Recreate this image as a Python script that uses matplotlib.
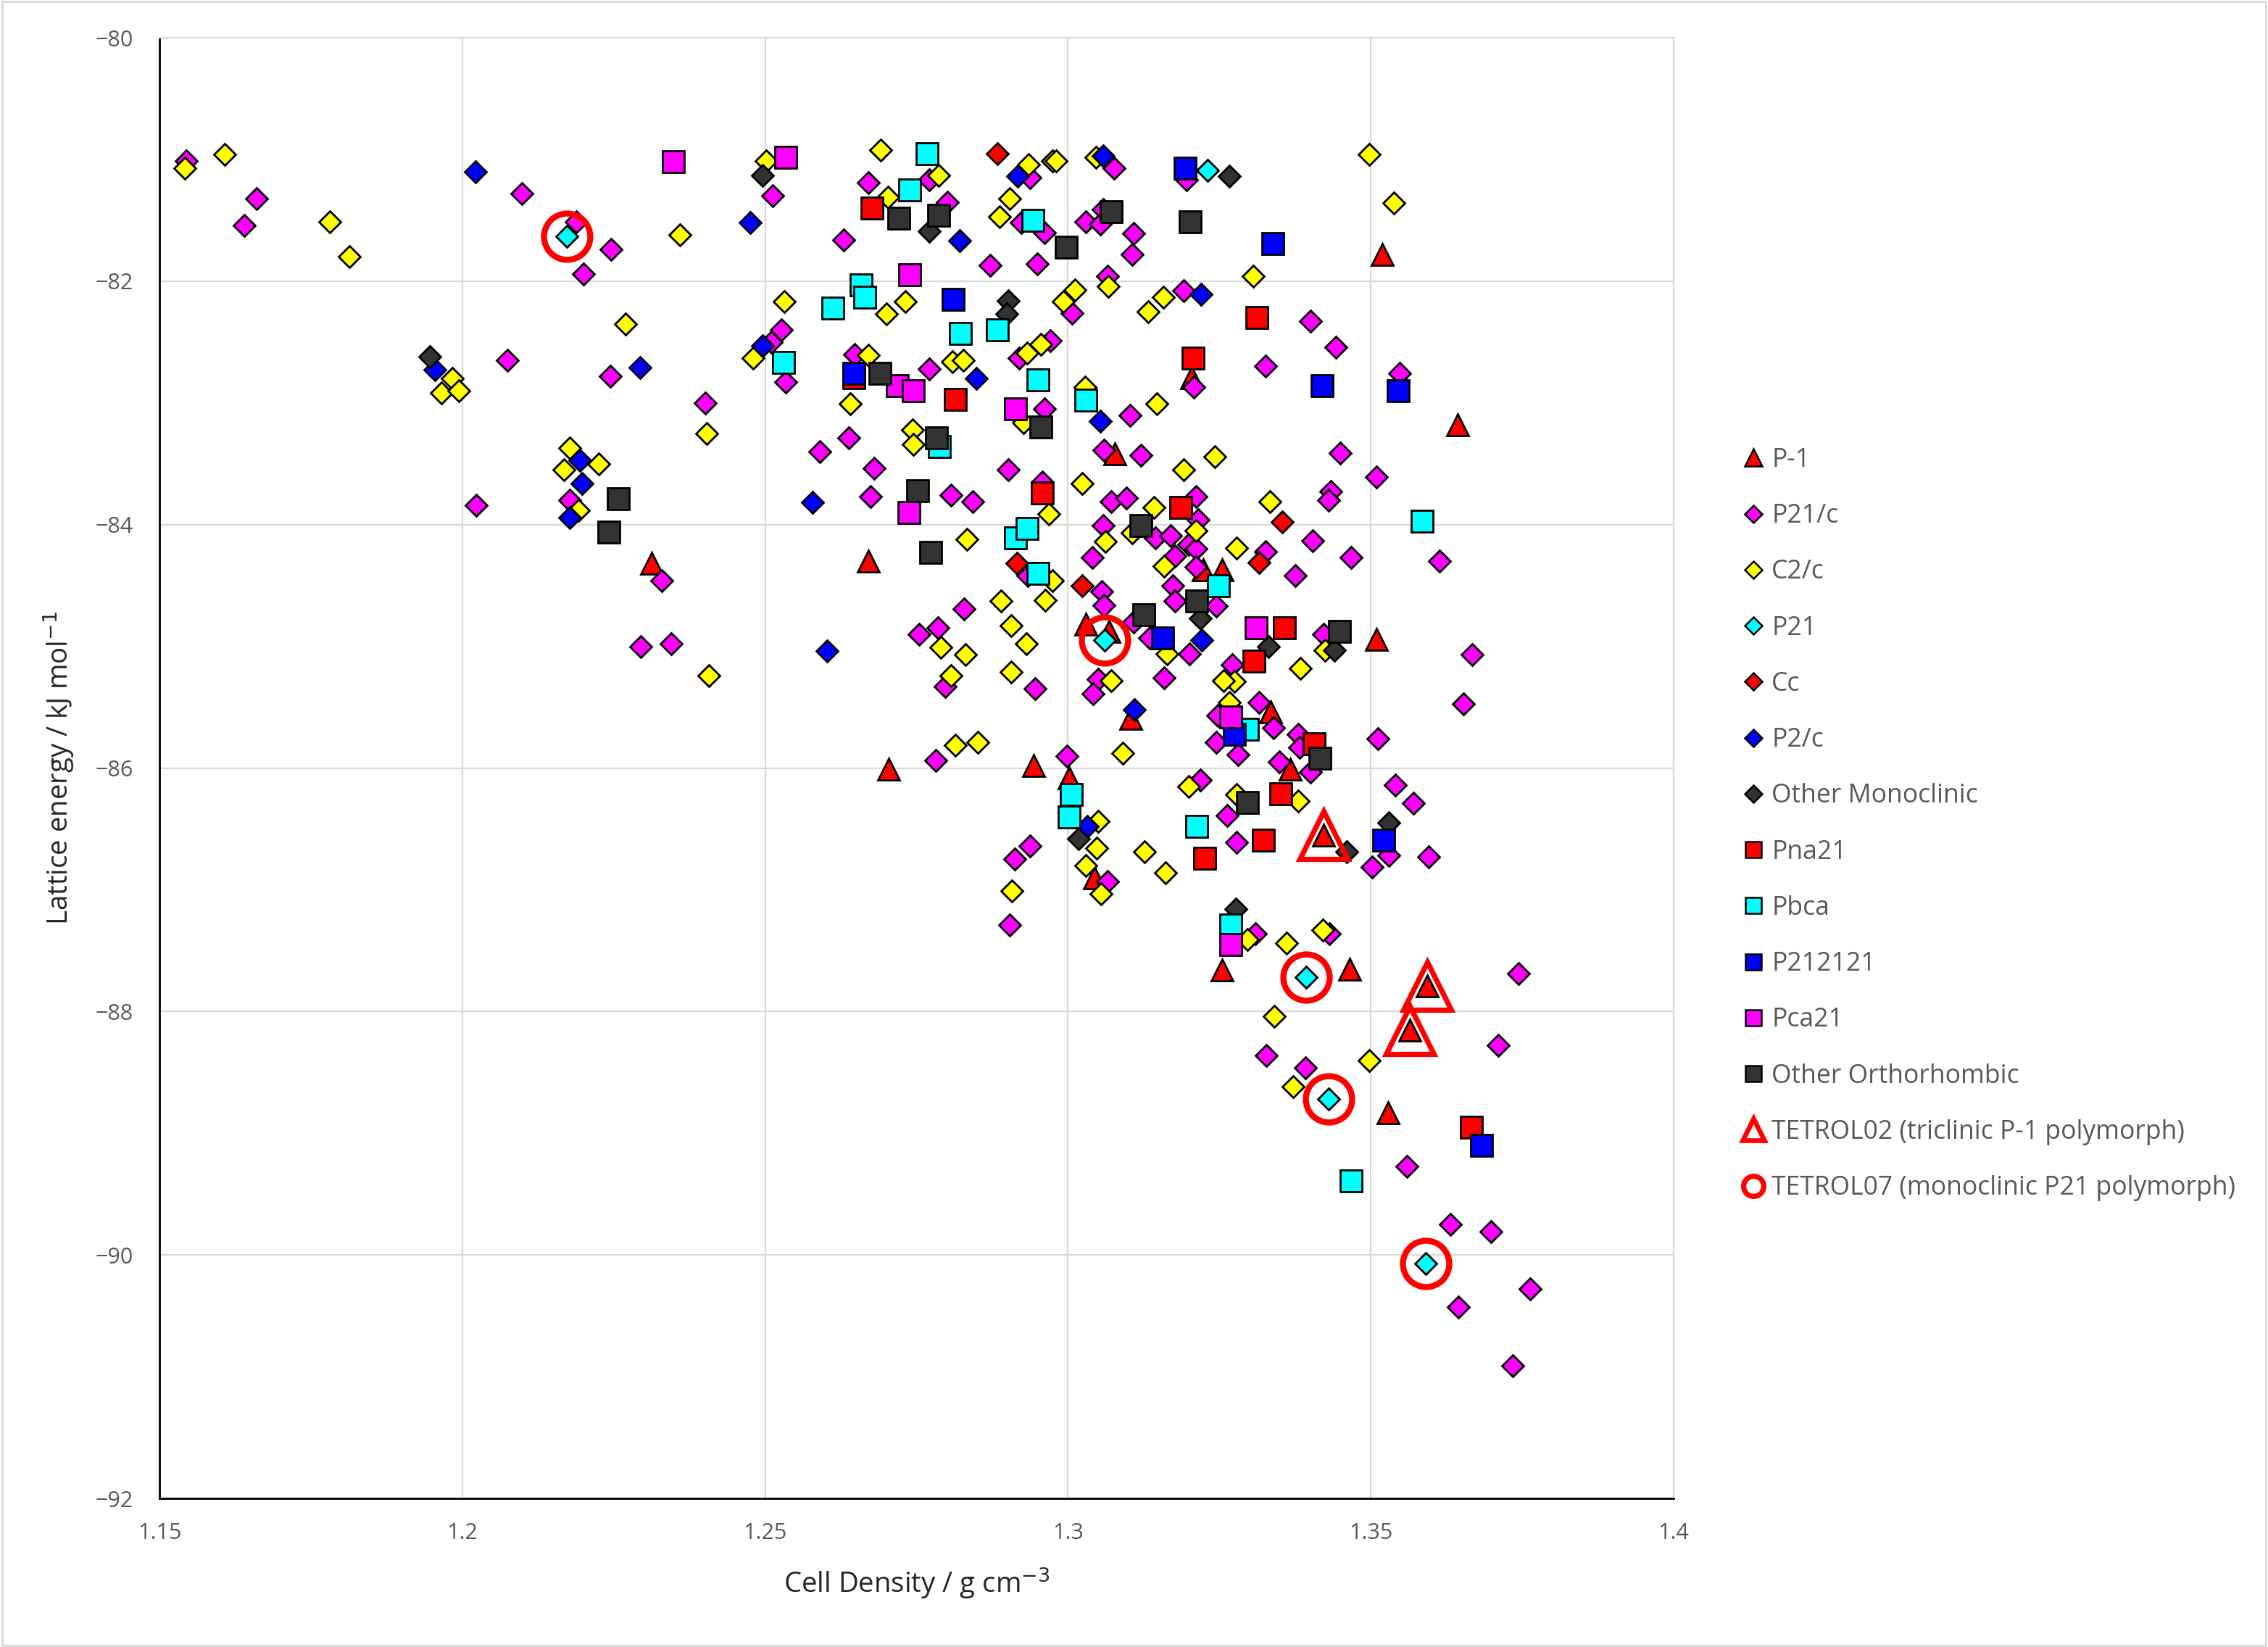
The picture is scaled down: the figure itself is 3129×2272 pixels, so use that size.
import matplotlib
matplotlib.use("Agg")
import matplotlib.pyplot as plt
from matplotlib.lines import Line2D
from matplotlib.patches import Rectangle

plt.rcParams['font.family'] = ['Open Sans', 'DejaVu Sans']

# données : (densité, énergie)
p_1 = [(1.3519, -81.78), (1.3644, -83.18), (1.2313, -84.32), (1.2671, -84.30),
       (1.3030, -84.82), (1.3068, -84.88), (1.3078, -83.42), (1.3204, -82.79),
       (1.3223, -84.37), (1.3255, -84.37), (1.3509, -84.94), (1.2704, -86.01),
       (1.2943, -85.98), (1.3104, -85.59), (1.3335, -85.54), (1.3367, -86.01),
       (1.3002, -86.08), (1.3044, -86.90), (1.3255, -87.66), (1.3465, -87.65),
       (1.3529, -88.83), (1.3422, -86.55), (1.3593, -87.79), (1.3565, -88.15)]

p21_c = [(1.1544, -81.01), (1.1661, -81.32), (1.1640, -81.54), (1.2098, -81.28),
         (1.2188, -81.51), (1.2246, -81.74), (1.2200, -81.94), (1.2074, -82.65),
         (1.2245, -82.78), (1.2401, -83.00), (1.2177, -83.80), (1.2023, -83.84),
         (1.2330, -84.46), (1.2295, -85.00), (1.2345, -84.98),
         (1.2512, -81.30), (1.2630, -81.66), (1.2671, -81.19), (1.2771, -81.17),
         (1.2801, -81.35), (1.2937, -81.15), (1.2923, -81.52), (1.2961, -81.60),
         (1.2871, -81.87), (1.2949, -81.86), (1.2527, -82.40), (1.2534, -82.83),
         (1.2510, -82.50), (1.2648, -82.60), (1.2771, -82.72), (1.2971, -82.49),
         (1.2919, -82.63), (1.2961, -83.05), (1.2638, -83.29), (1.2590, -83.40),
         (1.2680, -83.54), (1.2902, -83.55), (1.2958, -83.65), (1.2674, -83.77),
         (1.2807, -83.76), (1.2843, -83.81),
         (1.2829, -84.69), (1.2754, -84.90), (1.2785, -84.85), (1.2797, -85.33),
         (1.2946, -85.35), (1.2782, -85.94), (1.2937, -86.64), (1.2912, -86.75),
         (1.2904, -87.29), (1.2934, -84.42),
         (1.3076, -81.07), (1.3196, -81.17), (1.3029, -81.51), (1.3054, -81.53),
         (1.3058, -81.41), (1.3109, -81.61), (1.3106, -81.78), (1.3066, -81.96),
         (1.3007, -82.26), (1.3191, -82.08), (1.3400, -82.33), (1.3442, -82.54),
         (1.3326, -82.70), (1.3208, -82.87), (1.3548, -82.76), (1.3103, -83.10),
         (1.3060, -83.39), (1.3121, -83.43), (1.3450, -83.41), (1.3510, -83.61),
         (1.3434, -83.73), (1.3430, -83.80),
         (1.3072, -83.81), (1.3096, -83.78), (1.3211, -83.77), (1.3215, -83.96),
         (1.3058, -84.01), (1.3040, -84.27), (1.3145, -84.11), (1.3169, -84.09),
         (1.3199, -84.16), (1.3211, -84.20), (1.3177, -84.26), (1.3211, -84.35),
         (1.3173, -84.50), (1.3177, -84.63), (1.3245, -84.67), (1.3056, -84.55),
         (1.3060, -84.66), (1.3108, -84.80), (1.3135, -84.93), (1.3201, -85.06),
         (1.3159, -85.26), (1.3050, -85.27), (1.3042, -85.39), (1.2998, -85.90),
         (1.3271, -85.15), (1.3247, -85.57), (1.3315, -85.46), (1.3339, -85.67),
         (1.3245, -85.79), (1.3281, -85.89), (1.3380, -85.72), (1.3382, -85.83),
         (1.3349, -85.95), (1.3400, -86.03), (1.3422, -84.90), (1.3512, -85.76),
         (1.3404, -84.13), (1.3467, -84.27), (1.3326, -84.22), (1.3376, -84.42),
         (1.3219, -86.10), (1.3263, -86.39), (1.3279, -86.61), (1.3540, -86.14),
         (1.3570, -86.29), (1.3502, -86.81),
         (1.3066, -86.93), (1.3309, -87.36), (1.3432, -87.36), (1.3328, -88.36),
         (1.3392, -88.46), (1.3560, -89.27), (1.3530, -86.72),
         (1.3613, -84.30), (1.3668, -85.07), (1.3653, -85.47), (1.3596, -86.73),
         (1.3744, -87.69), (1.3710, -88.28), (1.3632, -89.75), (1.3698, -89.81),
         (1.3763, -90.28), (1.3645, -90.43), (1.3734, -90.91)]

c2_c = [(1.1542, -81.07), (1.1608, -80.96), (1.1781, -81.51), (1.1813, -81.80),
        (1.2359, -81.62), (1.2269, -82.35), (1.1983, -82.80), (1.1966, -82.92),
        (1.1994, -82.90), (1.2404, -83.25), (1.2177, -83.37), (1.2168, -83.55),
        (1.2225, -83.50), (1.2192, -83.88), (1.2407, -85.24),
        (1.2502, -81.01), (1.2691, -80.92), (1.2703, -81.31), (1.2786, -81.13),
        (1.2935, -81.04), (1.2975, -81.01), (1.2904, -81.32), (1.2887, -81.47),
        (1.2532, -82.17), (1.2731, -82.17), (1.2701, -82.27), (1.2480, -82.63),
        (1.2670, -82.61), (1.2809, -82.66), (1.2827, -82.65), (1.2933, -82.59),
        (1.2955, -82.52), (1.2641, -83.01), (1.2743, -83.22), (1.2745, -83.34),
        (1.2927, -83.16),
        (1.2980, -81.01), (1.3046, -80.98), (1.3497, -80.96), (1.3538, -81.36),
        (1.3306, -81.96), (1.3067, -82.04), (1.3012, -82.07), (1.2992, -82.17),
        (1.3157, -82.13), (1.3133, -82.25), (1.3028, -82.87), (1.3147, -83.01),
        (1.3243, -83.44), (1.3191, -83.55), (1.3023, -83.66), (1.3333, -83.81),
        (1.2969, -83.91), (1.2833, -84.12), (1.2962, -84.62), (1.2974, -84.46),
        (1.2889, -84.63), (1.2790, -85.01), (1.2831, -85.07), (1.2906, -84.83),
        (1.2931, -84.98), (1.2807, -85.24), (1.2906, -85.21), (1.2814, -85.81),
        (1.2851, -85.79), (1.2907, -87.01),
        (1.3142, -83.86), (1.3211, -84.05), (1.3062, -84.14), (1.3106, -84.07),
        (1.3159, -84.34), (1.3163, -85.06), (1.3072, -85.28), (1.3090, -85.88),
        (1.3275, -85.29), (1.3257, -85.28), (1.3267, -85.46), (1.3424, -85.03),
        (1.3384, -85.18), (1.3278, -84.19), (1.3199, -86.15), (1.3380, -86.27),
        (1.3050, -86.44), (1.3127, -86.69), (1.3161, -86.86), (1.3279, -86.22),
        (1.3047, -86.66), (1.3030, -86.80), (1.3055, -87.03), (1.3297, -87.41),
        (1.3361, -87.44), (1.3421, -87.33), (1.3341, -88.04), (1.3372, -88.62),
        (1.3497, -88.40)]

p21 = [(1.2173, -81.63), (1.3230, -81.09), (1.3061, -84.95), (1.3393, -87.72),
       (1.3431, -88.72), (1.3591, -90.07)]

cc = [(1.2884, -80.95), (1.2916, -84.32), (1.3024, -84.50), (1.3354, -83.98),
      (1.3315, -84.31)]

p2_c = [(1.2022, -81.10), (1.1955, -82.73), (1.2294, -82.71), (1.2194, -83.47),
        (1.2198, -83.66), (1.2177, -83.94), (1.2476, -81.52), (1.2496, -82.53),
        (1.2578, -83.82), (1.2602, -85.04), (1.2821, -81.67), (1.2917, -81.14),
        (1.2849, -82.80), (1.3058, -80.97), (1.3220, -82.11), (1.3054, -83.15),
        (1.3221, -84.95), (1.3110, -85.52), (1.3032, -86.48)]

other_mono = [(1.1946, -82.62), (1.2496, -81.13), (1.2771, -81.59), (1.2901, -82.16),
              (1.2899, -82.27), (1.3267, -81.14), (1.3219, -84.77), (1.3331, -85.00),
              (1.3440, -85.03), (1.3018, -86.58), (1.3277, -87.16), (1.3460, -86.69),
              (1.3530, -86.45)]

pna21 = [(1.2676, -81.40), (1.2646, -82.79), (1.2814, -82.97), (1.2958, -83.74),
         (1.3186, -83.86), (1.3207, -82.63), (1.3312, -82.30), (1.3357, -84.85),
         (1.3307, -85.12), (1.3406, -85.80), (1.3351, -86.21), (1.3323, -86.59),
         (1.3226, -86.74), (1.3666, -88.95)]

pbca = [(1.2767, -80.95), (1.2739, -81.25), (1.2942, -81.50), (1.2658, -82.03),
        (1.2664, -82.13), (1.2612, -82.22), (1.2823, -82.43), (1.2884, -82.40),
        (1.2530, -82.67), (1.2950, -82.81), (1.2788, -83.36), (1.3029, -82.98),
        (1.2914, -84.11), (1.2933, -84.03), (1.2950, -84.40), (1.3248, -84.50),
        (1.3297, -85.68), (1.3006, -86.22), (1.3002, -86.40), (1.3213, -86.48),
        (1.3269, -87.29), (1.3468, -89.39), (1.3585, -83.97)]

p212121 = [(1.2810, -82.15), (1.2646, -82.76), (1.3193, -81.07), (1.3338, -81.69),
           (1.3420, -82.86), (1.3545, -82.90), (1.3156, -84.93), (1.3275, -85.72),
           (1.3522, -86.59), (1.3683, -89.10)]

pca21 = [(1.2348, -81.02), (1.2534, -80.98), (1.2739, -81.95), (1.2718, -82.86),
         (1.2745, -82.90), (1.2914, -83.05), (1.2737, -83.90), (1.3311, -84.85),
         (1.3269, -85.58), (1.3269, -87.45)]

other_ortho = [(1.2258, -83.79), (1.2242, -84.06), (1.2721, -81.48), (1.2786, -81.46),
               (1.2690, -82.76), (1.2955, -83.20), (1.2783, -83.29), (1.2752, -83.72),
               (1.2773, -84.23), (1.2997, -81.72), (1.3072, -81.43), (1.3202, -81.51),
               (1.3120, -84.01), (1.3213, -84.63), (1.3125, -84.74), (1.3448, -84.88),
               (1.3416, -85.92), (1.3296, -86.28)]

tetrol02 = [(1.3422, -86.55), (1.3593, -87.79), (1.3565, -88.15)]
tetrol07 = [(1.2173, -81.63), (1.3061, -84.95), (1.3393, -87.72), (1.3431, -88.72),
            (1.3591, -90.07)]

x_ticks = [1.15, 1.2, 1.25, 1.3, 1.35, 1.4]
x_tick_labels = ['1.15', '1.2', '1.25', '1.3', '1.35', '1.4']
y_ticks = [-92, -90, -88, -86, -84, -82, -80]

# (nom, points, marqueur, couleur)
series = [
    ('P-1', p_1, '^', '#FF0000'),
    ('P21/c', p21_c, 'D', '#FF00FF'),
    ('C2/c', c2_c, 'D', '#FFFF00'),
    ('P21', p21, 'D', '#00FFFF'),
    ('Cc', cc, 'D', '#FF0000'),
    ('P2/c', p2_c, 'D', '#0000FF'),
    ('Other Monoclinic', other_mono, 'D', '#333333'),
    ('Pna21', pna21, 's', '#FF0000'),
    ('Pbca', pbca, 's', '#00FFFF'),
    ('P212121', p212121, 's', '#0000FF'),
    ('Pca21', pca21, 's', '#FF00FF'),
    ('Other Orthorhombic', other_ortho, 's', '#333333'),
]
sizes = {'^': 11, 'D': 7.7, 's': 10.5}
leg_sizes = {'^': 8.5, 'D': 6.2, 's': 8.2}

fig = plt.figure(figsize=(15.645, 11.36), dpi=200)
ax = fig.add_axes([0.0703, 0.0902, 0.6676, 0.8869])

handles = []
for name, pts, m, col in series:
    xs = [p[0] for p in pts]
    ys = [p[1] for p in pts]
    ax.plot(xs, ys, linestyle='none', marker=m, markersize=sizes[m],
            markerfacecolor=col, markeredgecolor='black', markeredgewidth=1.0)
    handles.append(Line2D([], [], linestyle='none', marker=m, markersize=leg_sizes[m],
                          markerfacecolor=col, markeredgecolor='black',
                          markeredgewidth=0.9, label=name))

ax.plot([p[0] for p in tetrol02], [p[1] for p in tetrol02], linestyle='none',
        marker='^', markersize=24, markerfacecolor='none', markeredgecolor='#FF0000',
        markeredgewidth=2.6)
ax.plot([p[0] for p in tetrol07], [p[1] for p in tetrol07], linestyle='none',
        marker='o', markersize=23, markerfacecolor='none', markeredgecolor='#FF0000',
        markeredgewidth=3.0)
handles.append(Line2D([], [], linestyle='none', marker='^', markersize=10.5,
                      markerfacecolor='white', markeredgecolor='#FF0000',
                      markeredgewidth=2.4, label='TETROL02 (triclinic P-1 polymorph)'))
handles.append(Line2D([], [], linestyle='none', marker='o', markersize=10,
                      markerfacecolor='white', markeredgecolor='#FF0000',
                      markeredgewidth=2.6, label='TETROL07 (monoclinic P21 polymorph)'))

ax.set_xlim(1.15, 1.4)
ax.set_ylim(-92, -80)
ax.set_xticks(x_ticks)
ax.set_xticklabels(x_tick_labels)
ax.set_yticks(y_ticks)
ax.grid(True, color='#d9d9d9', linewidth=0.8)
ax.set_axisbelow(True)
ax.tick_params(length=0, labelsize=11, labelcolor='#595959')
ax.tick_params(axis='y', pad=13)
ax.tick_params(axis='x', pad=12)
for s in ['top', 'right']:
    ax.spines[s].set_color('#d9d9d9')
    ax.spines[s].set_linewidth(0.8)
for s in ['left', 'bottom']:
    ax.spines[s].set_color('black')
    ax.spines[s].set_linewidth(1.0)

ax.set_xlabel('Cell Density / g cm$^{-3}$', fontsize=13.8, color='#262626', labelpad=11)
ax.set_ylabel('Lattice energy / kJ mol$^{-1}$', fontsize=13.8, color='#262626', labelpad=9)

leg = fig.legend(handles=handles, loc='upper left', bbox_to_anchor=(0.7686, 0.7285),
                 frameon=False, fontsize=12.8, labelspacing=1.16, handlelength=0.8,
                 handletextpad=0.3, borderpad=0, borderaxespad=0)
for t in leg.get_texts():
    t.set_color('#595959')

fig.patches.append(Rectangle((0.001, 0.001), 0.998, 0.998, transform=fig.transFigure,
                             fill=False, edgecolor='#d9d9d9', linewidth=1.0))

fig.savefig('out.png', dpi=200)
